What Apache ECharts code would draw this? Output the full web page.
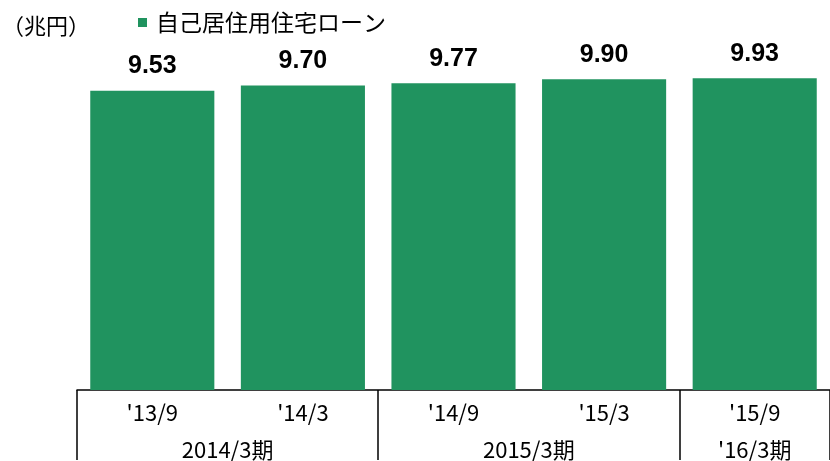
<!DOCTYPE html>
<html>
<head>
<meta charset="utf-8">
<script src="https://cdn.jsdelivr.net/npm/echarts@6/dist/echarts.min.js"></script>
<style>
  html, body { margin: 0; padding: 0; background: #fff; }
  #chart { width: 830px; height: 461px; }
</style>
</head>
<body>
<div id="chart"></div>
<script>
// data
const periods = ["'13/9", "'14/3", "'14/9", "'15/3", "'15/9"]
const loanValues = [9.53, 9.70, 9.77, 9.90, 9.93]
const groupLabels = ['2014/3期', '2015/3期', "'16/3期"]
const groupSpans = [2, 2, 1]
const seriesName = '自己居住用住宅ローン'
const unitLabel = '（兆円）'

// group boundaries (category index) and centres
const groupStarts = []
const groupCenters = []
let acc = 0
groupSpans.forEach(function(s) {
  groupStarts.push(acc)
  groupCenters.push(acc + s / 2)
  acc += s
})

const jpFont = '"Noto Sans CJK JP", sans-serif'

const myChart = echarts.init(document.getElementById('chart'))
myChart.setOption({
  animation: false,
  title: {
    text: unitLabel,
    left: 2,
    top: 15,
    padding: 0,
    textStyle: { fontFamily: jpFont, fontSize: 22, fontWeight: 'normal', color: '#000' }
  },
  legend: {
    data: [seriesName],
    left: 133,
    top: 6,
    icon: 'rect',
    itemWidth: 9,
    itemHeight: 9,
    textStyle: { fontFamily: jpFont, fontSize: 23, color: '#000', padding: [0, 0, 0, 4] }
  },
  grid: {
    left: 77,
    width: 759,
    top: 76,
    bottom: 70
  },
  xAxis: [
    {
      type: 'category',
      data: periods,
      axisLine: { lineStyle: { color: '#000', width: 1.5 } },
      axisTick: {
        show: true,
        length: 70,
        interval: function(index) {
          return groupStarts.indexOf(index) !== -1
        },
        lineStyle: { color: '#000', width: 1.5 }
      },
      axisLabel: {
        margin: 11.5,
        fontFamily: jpFont,
        fontSize: 22,
        color: '#000'
      }
    },
    {
      type: 'value',
      position: 'bottom',
      min: 0,
      max: periods.length,
      interval: 0.5,
      offset: 37.5,
      axisLine: { show: false },
      axisTick: { show: false },
      splitLine: { show: false },
      axisLabel: {
        margin: 11.5,
        fontFamily: jpFont,
        fontSize: 22,
        color: '#000',
        showMinLabel: false,
        showMaxLabel: false,
        formatter: function(v) {
          const i = groupCenters.indexOf(v)
          return i === -1 ? '' : groupLabels[i]
        }
      }
    }
  ],
  yAxis: {
    type: 'value',
    min: 0,
    max: 10,
    show: false
  },
  series: [
    {
      name: seriesName,
      type: 'bar',
      xAxisIndex: 0,
      barCategoryGap: '17.6%',
      itemStyle: { color: '#20935f' },
      label: {
        show: true,
        position: 'top',
        distance: 12,
        fontFamily: '"Liberation Sans", Arial, sans-serif',
        fontSize: 25,
        fontWeight: 'bold',
        color: '#000',
        formatter: function(p) {
          return p.value.toFixed(2)
        }
      },
      data: loanValues
    }
  ]
})
</script>
</body>
</html>
